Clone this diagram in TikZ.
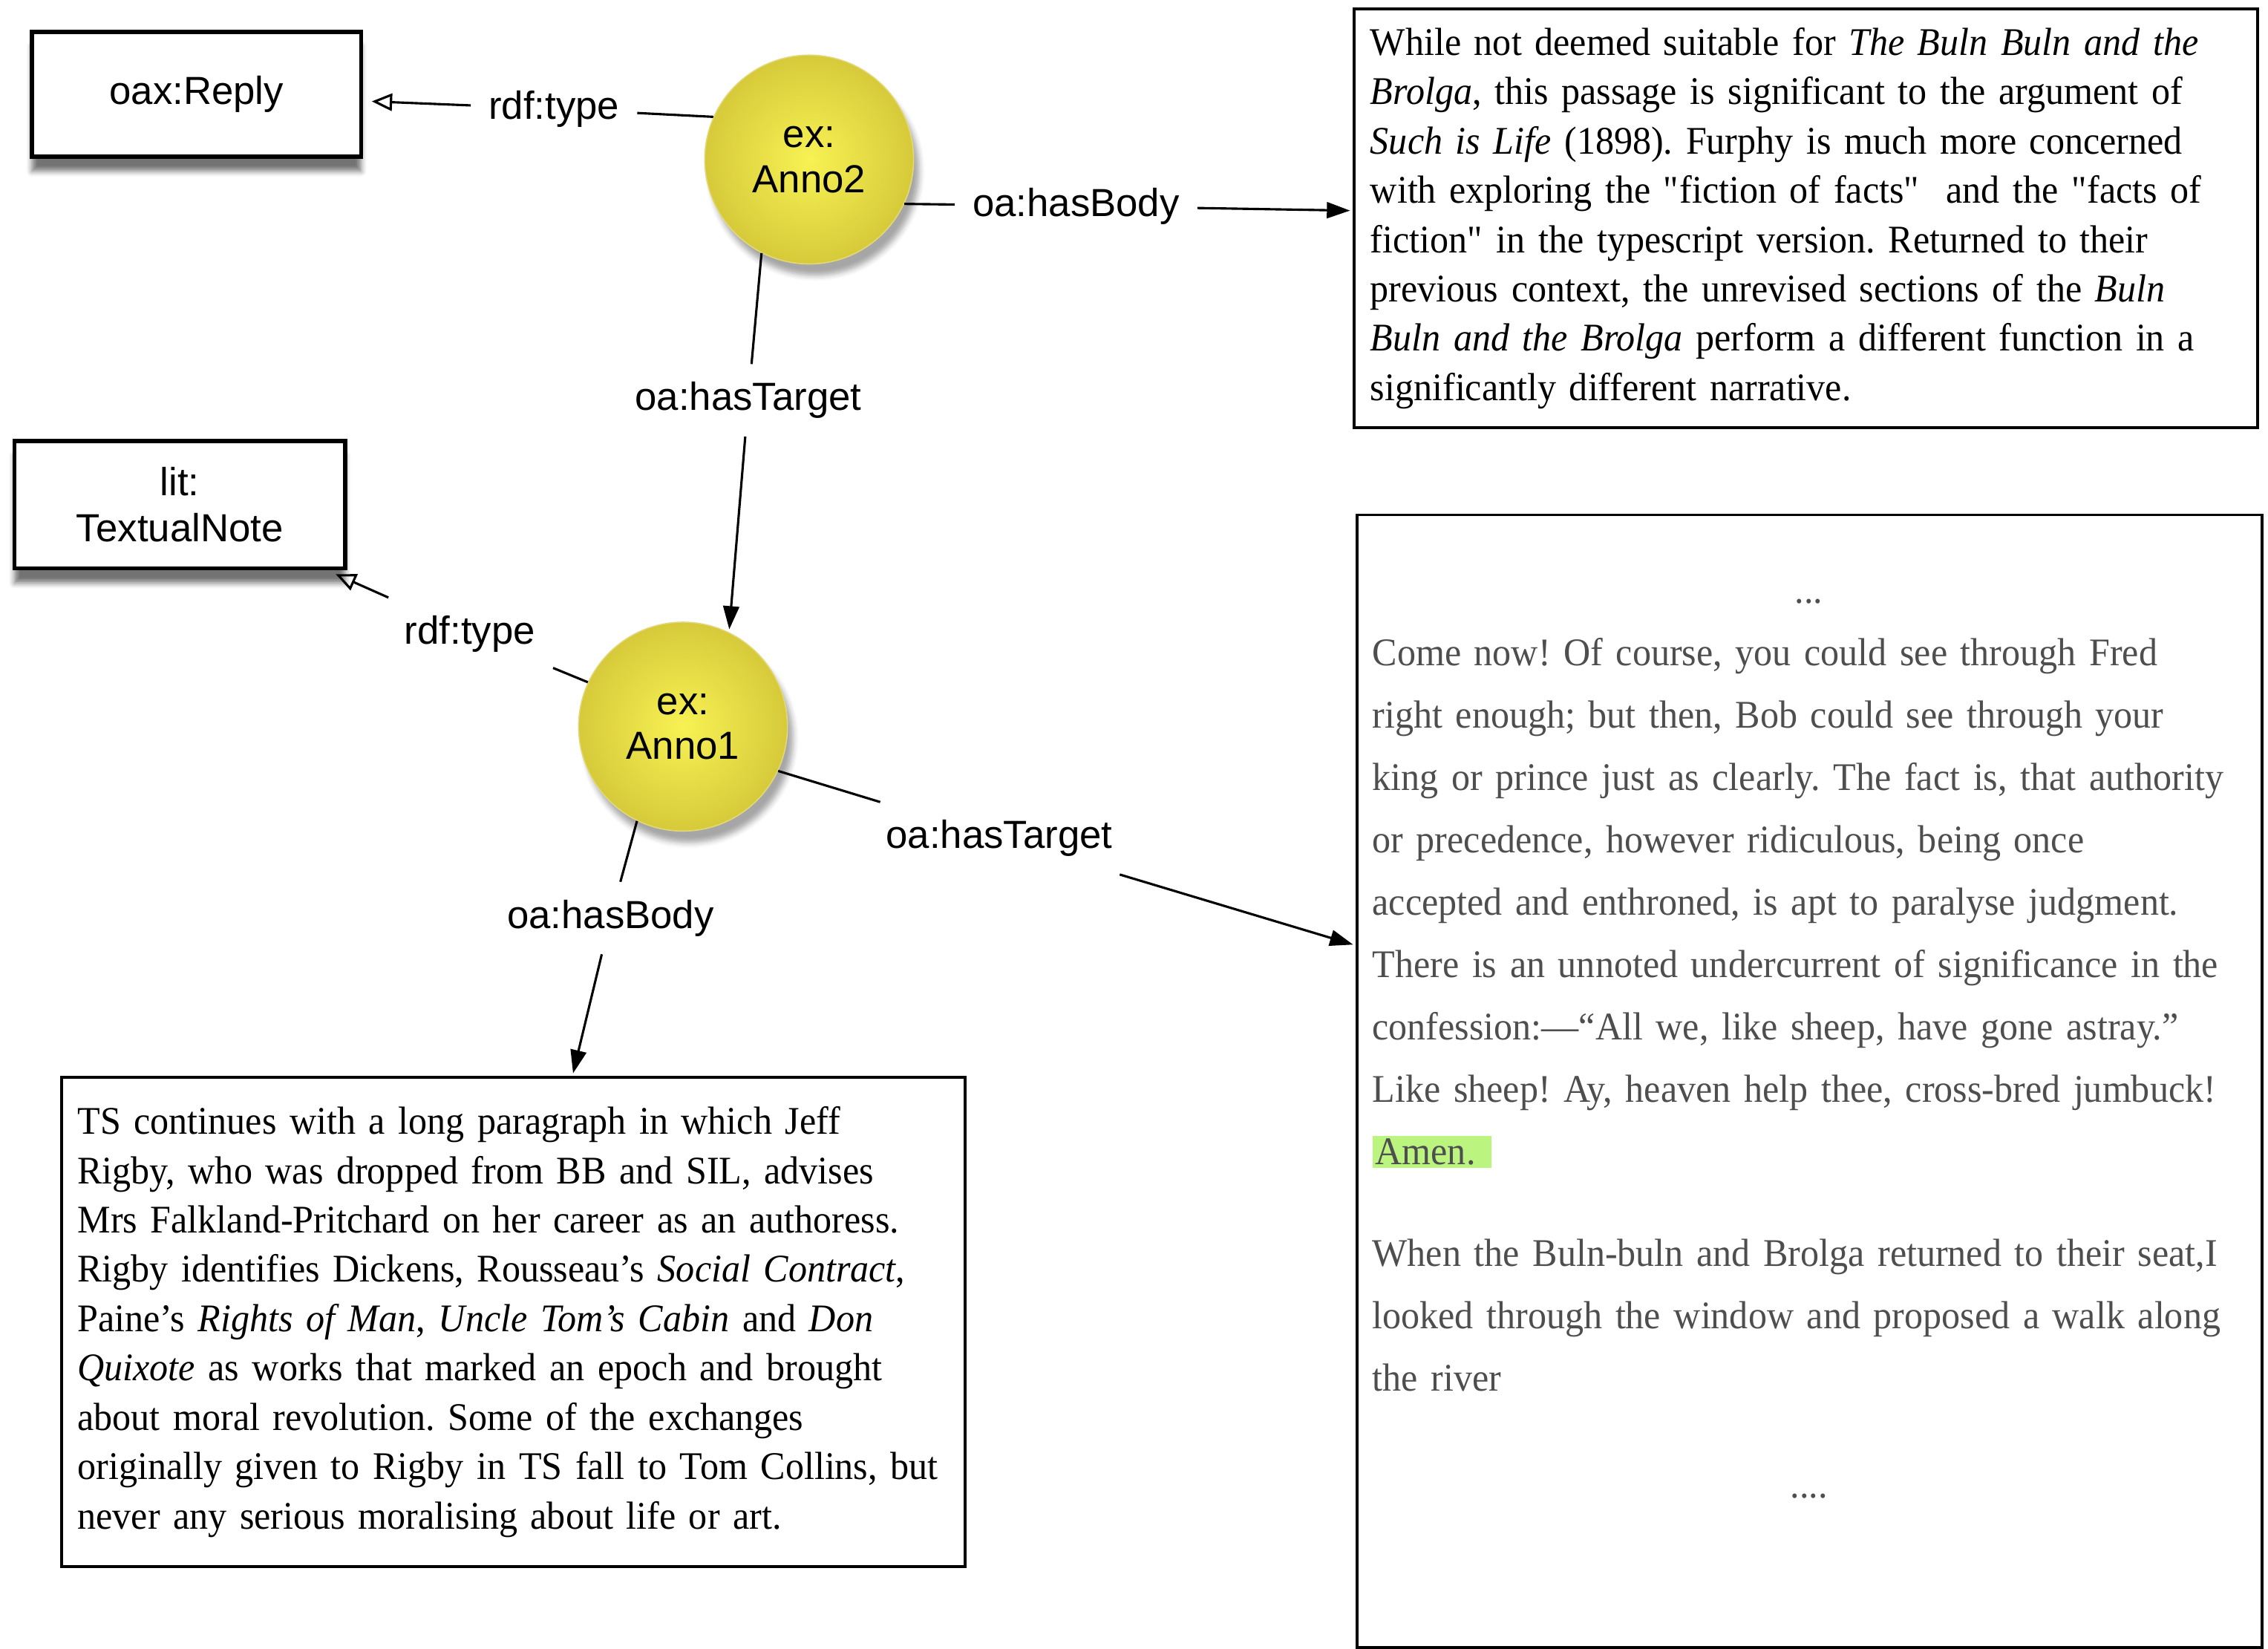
\documentclass[tikz,border=0pt]{standalone}
\usepackage{fontspec}
\setmainfont{Liberation Serif}[FakeStretch=0.95]
\setsansfont{Liberation Sans}
\usetikzlibrary{arrows.meta,shadows.blur}
\frenchspacing
\hyphenpenalty=10000
\exhyphenpenalty=10000

\definecolor{annoInner}{RGB}{248,242,84}
\definecolor{annoOuter}{RGB}{214,202,58}
\definecolor{annoEdge}{RGB}{226,216,120}
\definecolor{amenGreen}{RGB}{188,244,128}
\definecolor{quoteGray}{RGB}{78,78,78}

\begin{document}
\begin{tikzpicture}[x=0.5pt, y=-0.5pt,
    anno/.style={circle, minimum size=72pt, inner sep=0pt,
      inner color=annoInner, outer color=annoOuter, draw=annoEdge,
      line width=0.4pt, align=center,
      font=\sffamily\fontsize{13.5}{15.5}\selectfont,
      blur shadow={shadow xshift=2pt, shadow yshift=-4pt, shadow opacity=35}},
    typebox/.style={draw, line width=1.4pt, fill=white, align=center,
      font=\sffamily\fontsize{13.5}{16}\selectfont,
      blur shadow={shadow xshift=0pt, shadow yshift=-5pt, shadow opacity=55}},
    textbox/.style={draw, line width=1pt, align=left, inner xsep=5.5pt,
      text width=300.5pt, font=\fontsize{13.5}{17}\selectfont},
    prop/.style={inner sep=6pt, font=\sffamily\fontsize{13.5}{15}\selectfont},
    link/.style={line width=0.8pt},
    typearrow/.style={-{Triangle[open, length=7pt, width=6pt]}, shorten >=3pt},
    hasarrow/.style={-{Triangle[length=8pt, width=5.5pt]}, shorten >=1pt}]

  \useasboundingbox (0,0) rectangle (1564,1137);

  % classes
  \node[typebox, minimum width=113.5pt, minimum height=43pt] (replyBox)
    at (135.5,65) {oax:Reply};
  \node[typebox, minimum width=114pt, minimum height=44pt] (textualBox)
    at (124,348) {lit:\\TextualNote};

  % annotations
  \node[anno] (anno2) at (558,110) {ex:\\Anno2};
  \node[anno] (anno1) at (471,501) {ex:\\Anno1};

  % bodies and targets
  \node[textbox, minimum height=144.5pt] (noteBox) at (1245.5,150.5) {%
    While not deemed suitable for \textit{The Buln Buln and the}\\
    \textit{Brolga}, this passage is significant to the argument of\\
    \textit{Such is Life} (1898). Furphy is much more concerned\\
    with exploring the \textquotedbl fiction of facts\textquotedbl\ \ and the \textquotedbl facts of\\
    fiction\textquotedbl\ in the typescript version. Returned to their\\
    previous context, the unrevised sections of the \textit{Buln}\\
    \textit{Buln and the Brolga} perform a different function in a\\
    significantly different narrative.};

  \node[textbox, minimum height=168.5pt] (commentBox) at (354,911.5) {%
    TS continues with a long paragraph in which Jeff\\
    Rigby, who was dropped from BB and SIL, advises\\
    Mrs Falkland-Pritchard on her career as an authoress.\\
    Rigby identifies Dickens, Rousseau’s \textit{Social Contract},\\
    Paine’s \textit{Rights of Man}, \textit{Uncle Tom’s Cabin} and \textit{Don}\\
    \textit{Quixote} as works that marked an epoch and brought\\
    about moral revolution. Some of the exchanges\\
    originally given to Rigby in TS fall to Tom Collins, but\\
    never any serious moralising about life or art.};

  \node[draw, line width=1pt, minimum width=312pt, minimum height=390.5pt]
    (quoteBox) at (1248,745.5) {};
  \node[anchor=base west, inner sep=0pt, align=left, text width=320pt,
    text=quoteGray, font=\fontsize{13.5}{21.5}\selectfont]
    (quoteText) at (946,416) {%
    \makebox[301pt]{...}\\
    Come now! Of course, you could see through Fred\\
    right enough; but then, Bob could see through your\\
    king or prince just as clearly. The fact is, that authority\\
    or precedence, however ridiculous, being once\\
    accepted and enthroned, is apt to paralyse judgment.\\
    There is an unnoted undercurrent of significance in the\\
    confession:—“All we, like sheep, have gone astray.”\\
    Like sheep! Ay, heaven help thee, cross-bred jumbuck!\\
    {\setlength\fboxsep{1pt}\colorbox{amenGreen}{Amen.\ }}\\[13.5pt]
    When the Buln-buln and Brolga returned to their seat,I\\
    looked through the window and proposed a walk along\\
    the river\\[15.5pt]
    \makebox[301pt]{....}};

  % property labels
  \node[prop] (typeLbl2) at (382,75) {rdf:type};
  \node[prop] (bodyLbl2) at (742,142) {oa:hasBody};
  \node[prop] (targetLbl2) at (516,276) {oa:hasTarget};
  \node[prop] (typeLbl1) at (324,437) {rdf:type};
  \node[prop] (targetLbl1) at (689,578) {oa:hasTarget};
  \node[prop] (bodyLbl1) at (421,633) {oa:hasBody};

  % links
  \draw[link] (anno2.156) -- (typeLbl2);
  \draw[link, typearrow] (typeLbl2) -- (replyBox);
  \draw[link] (anno2.-25) -- (bodyLbl2);
  \draw[link, hasarrow] (bodyLbl2) -- (noteBox);
  \draw[link] (anno2.243) -- (targetLbl2);
  \draw[link, hasarrow] (targetLbl2) -- (anno1.64);
  \draw[link] (anno1.155) -- (typeLbl1);
  \draw[link, typearrow] (typeLbl1) -- (textualBox);
  \draw[link] (anno1.-25) -- (targetLbl1);
  \draw[link, hasarrow] (targetLbl1) -- (quoteBox);
  \draw[link] (anno1.244) -- (bodyLbl1);
  \draw[link, hasarrow] (bodyLbl1) -- (commentBox);

\end{tikzpicture}
\end{document}
